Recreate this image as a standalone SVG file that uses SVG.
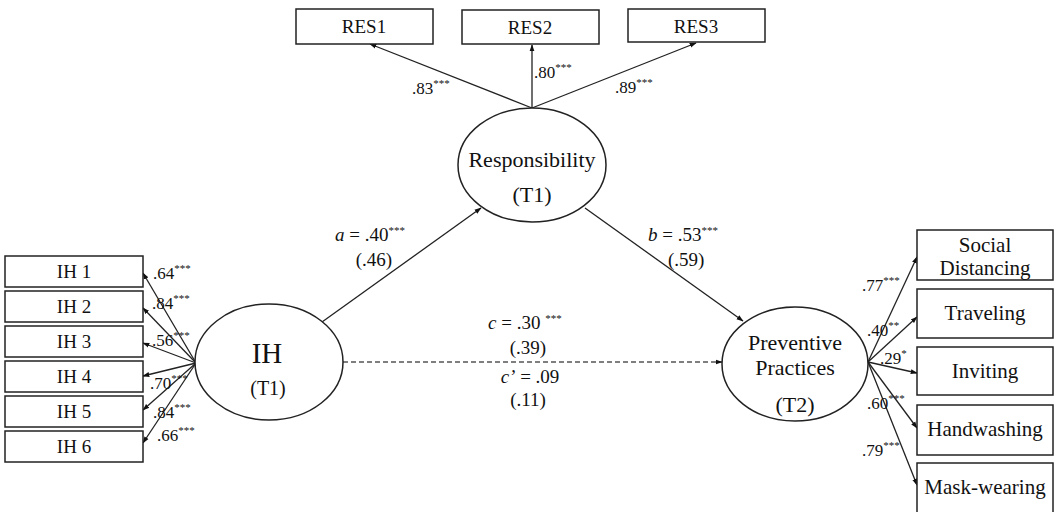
<svg xmlns="http://www.w3.org/2000/svg" width="1056" height="512" viewBox="0 0 1056 512">
<defs>
<marker id="ah" viewBox="0 0 10 10" refX="9" refY="5" markerWidth="7" markerHeight="7" orient="auto-start-reverse" markerUnits="userSpaceOnUse">
<path d="M0,1.5 L10,5 L0,8.5 z" fill="#111"/>
</marker>
<style>
.box{fill:#fff;stroke:#222;stroke-width:1.5}
.ell{fill:#fff;stroke:#222;stroke-width:1.5}
.ln{stroke:#222;stroke-width:1.3;fill:none;marker-end:url(#ah)}
.dash{stroke:#555;stroke-width:1.5;fill:none;stroke-dasharray:5,3;marker-end:url(#ah)}
.lb{font-size:17px}
.lbl{font-size:19px}
.bl{font-size:19px;text-anchor:middle}
.br{font-size:21px;text-anchor:middle}
.el{font-size:22px;text-anchor:middle}
.st{font-size:11px}
.c{text-anchor:middle}
</style>
</defs>
<rect width="1056" height="512" fill="#fff"/>

<g id="connectors">
<line class="ln" x1="196" y1="363" x2="143" y2="273"/>
<line class="ln" x1="196" y1="363" x2="143" y2="308"/>
<line class="ln" x1="196" y1="363" x2="143" y2="343"/>
<line class="ln" x1="196" y1="363" x2="143" y2="376"/>
<line class="ln" x1="196" y1="363" x2="143" y2="410"/>
<line class="ln" x1="196" y1="363" x2="143" y2="443"/>
<line class="ln" x1="532" y1="108" x2="370" y2="44"/>
<line class="ln" x1="532" y1="108" x2="532" y2="45"/>
<line class="ln" x1="532" y1="108" x2="696" y2="43"/>
<line class="ln" x1="322" y1="322" x2="481" y2="208"/>
<line class="ln" x1="585" y1="208" x2="743" y2="321"/>
<line class="dash" x1="343" y1="362" x2="722" y2="362"/>
<line class="ln" x1="868" y1="362" x2="917" y2="257"/>
<line class="ln" x1="868" y1="362" x2="917" y2="317"/>
<line class="ln" x1="868" y1="362" x2="917" y2="373"/>
<line class="ln" x1="868" y1="362" x2="917" y2="428"/>
<line class="ln" x1="868" y1="362" x2="917" y2="485"/>
</g>

<g font-family="'Liberation Serif', 'Times New Roman', 'DejaVu Serif', serif" fill="#111">
<g id="labels">
<text class="lb" x="153" y="279">.64<tspan class="st" dy="-7">***</tspan></text>
<text class="lb" x="152" y="309">.84<tspan class="st" dy="-7">***</tspan></text>
<text class="lb" x="152" y="346">.56<tspan class="st" dy="-7">***</tspan></text>
<text class="lb" x="150" y="389">.70<tspan class="st" dy="-7">***</tspan></text>
<text class="lb" x="153" y="418">.84<tspan class="st" dy="-7">***</tspan></text>
<text class="lb" x="157" y="441">.66<tspan class="st" dy="-7">***</tspan></text>

<text class="lb" x="412" y="94">.83<tspan class="st" dy="-7">***</tspan></text>
<text class="lb" x="534" y="78">.80<tspan class="st" dy="-7">***</tspan></text>
<text class="lb" x="615" y="93">.89<tspan class="st" dy="-7">***</tspan></text>

<text class="lb" x="862" y="291">.77<tspan class="st" dy="-7">***</tspan></text>
<text class="lb" x="867" y="336">.40<tspan class="st" dy="-7">**</tspan></text>
<text class="lb" x="880" y="364">.29<tspan class="st" dy="-7">*</tspan></text>
<text class="lb" x="867" y="409">.60<tspan class="st" dy="-7">***</tspan></text>
<text class="lb" x="862" y="456">.79<tspan class="st" dy="-7">***</tspan></text>

<text class="lbl" x="335" y="241"><tspan font-style="italic">a</tspan> = .40<tspan class="st" dy="-7">***</tspan></text>
<text class="lbl c" x="374" y="266">(.46)</text>
<text class="lbl" x="648" y="241"><tspan font-style="italic">b</tspan> = .53<tspan class="st" dy="-7">***</tspan></text>
<text class="lbl" x="668" y="266">(.59)</text>
<text class="lbl" x="488" y="329"><tspan font-style="italic">c</tspan> = .30 <tspan class="st" dy="-7">***</tspan></text>
<text class="lbl c" x="528" y="354">(.39)</text>
<text class="lbl c" x="530" y="383"><tspan font-style="italic">c’</tspan> = .09</text>
<text class="lbl c" x="528" y="406">(.11)</text>
</g>

<g id="IH1"><rect class="box" x="5" y="256" width="138" height="31"/><text class="bl" x="74" y="278">IH 1</text></g>
<g id="IH2"><rect class="box" x="5" y="291" width="138" height="31"/><text class="bl" x="74" y="313">IH 2</text></g>
<g id="IH3"><rect class="box" x="5" y="326" width="138" height="31"/><text class="bl" x="74" y="348">IH 3</text></g>
<g id="IH4"><rect class="box" x="5" y="361" width="138" height="31"/><text class="bl" x="74" y="383">IH 4</text></g>
<g id="IH5"><rect class="box" x="5" y="396" width="138" height="31"/><text class="bl" x="74" y="418">IH 5</text></g>
<g id="IH6"><rect class="box" x="5" y="431" width="138" height="31"/><text class="bl" x="74" y="453">IH 6</text></g>

<g id="RES1"><rect class="box" x="296" y="9" width="137" height="35"/><text class="bl" x="364" y="33">RES1</text></g>
<g id="RES2"><rect class="box" x="462" y="10" width="137" height="34"/><text class="bl" x="530" y="34">RES2</text></g>
<g id="RES3"><rect class="box" x="628" y="9" width="137" height="33"/><text class="bl" x="696" y="33">RES3</text></g>

<g id="IH"><ellipse class="ell" cx="269" cy="362" rx="74" ry="58"/>
<text x="267" y="363" font-size="29" text-anchor="middle">IH</text>
<text x="268" y="395" font-size="20" text-anchor="middle">(T1)</text></g>

<g id="Responsibility"><ellipse class="ell" cx="532" cy="165" rx="74" ry="57"/>
<text class="el" x="532" y="167">Responsibility</text>
<text class="el" x="532" y="202">(T1)</text></g>

<g id="Preventive"><ellipse class="ell" cx="795" cy="364" rx="73" ry="57"/>
<text class="el" x="795" y="350">Preventive</text>
<text class="el" x="795" y="375">Practices</text>
<text class="el" x="795" y="412">(T2)</text></g>

<g id="Social"><rect class="box" x="917" y="230" width="136" height="50"/><text class="br" x="985" y="252">Social</text><text class="br" x="985" y="275">Distancing</text></g>
<g id="Traveling"><rect class="box" x="917" y="289" width="136" height="49"/><text class="br" x="985" y="320">Traveling</text></g>
<g id="Inviting"><rect class="box" x="917" y="347" width="136" height="48"/><text class="br" x="985" y="378">Inviting</text></g>
<g id="Handwashing"><rect class="box" x="917" y="405" width="136" height="50"/><text class="br" x="985" y="436">Handwashing</text></g>
<g id="Mask"><rect class="box" x="917" y="463" width="136" height="52"/><text class="br" x="985" y="494">Mask-wearing</text></g>
</g>
</svg>
